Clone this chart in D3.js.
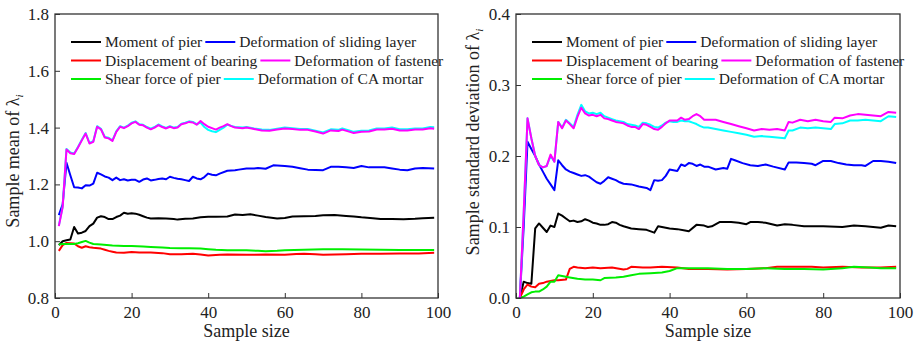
<!DOCTYPE html>
<html>
<head>
<meta charset="utf-8">
<script src="https://cdn.jsdelivr.net/npm/d3@7"></script>
<style>
  body { margin: 0; background: #fff; }
  text { font-family: "Liberation Serif", "Times New Roman", serif; fill: #222; }
</style>
</head>
<body>
<script>
// series names (legend order) and colours
var names = ["Moment of pier", "Deformation of sliding layer", "Displacement of bearing",
             "Deformation of fastener", "Shear force of pier", "Deformation of CA mortar"];
var colors = ["#000000", "#0000ff", "#ff0000", "#ff00ff", "#00ee00", "#00ffff"];

var xTicks = [0, 20, 40, 60, 80, 100];
var meanTicks = [0.8, 1.0, 1.2, 1.4, 1.6, 1.8];
var stdTicks = [0.0, 0.1, 0.2, 0.3, 0.4];

// left chart: sample mean of lambda_i   [sample size, value]
var meanMoment = [[1,0.986],[2,1.0],[3,1.003],[4,1.006],[5,1.05],[6,1.027],[7,1.03],[8,1.036],[9,1.053],[10,1.062],[11,1.083],[12,1.088],[13,1.085],[14,1.078],[15,1.078],[16,1.085],[17,1.09],[18,1.1],[19,1.097],[20,1.098],[21,1.097],[22,1.093],[23,1.088],[24,1.083],[25,1.08],[27,1.081],[29,1.08],[31,1.078],[32,1.076],[34,1.079],[36,1.08],[38,1.084],[40,1.086],[42,1.086],[45,1.087],[47,1.094],[49,1.092],[51,1.095],[53,1.09],[55,1.085],[58,1.08],[60,1.082],[62,1.087],[65,1.088],[68,1.089],[70,1.091],[73,1.092],[76,1.089],[78,1.087],[80,1.084],[83,1.081],[85,1.078],[88,1.078],[91,1.077],[94,1.079],[96,1.081],[99,1.083]];
var meanSliding = [[1,1.092],[2,1.13],[3,1.276],[4,1.232],[5,1.19],[6,1.189],[7,1.186],[8,1.197],[9,1.196],[10,1.203],[11,1.241],[12,1.235],[13,1.228],[14,1.224],[15,1.215],[16,1.224],[17,1.215],[18,1.218],[19,1.214],[20,1.216],[21,1.216],[22,1.209],[23,1.217],[24,1.221],[25,1.214],[26,1.216],[27,1.219],[28,1.221],[29,1.218],[30,1.227],[31,1.223],[32,1.22],[33,1.218],[34,1.215],[35,1.212],[36,1.227],[37,1.221],[38,1.218],[39,1.226],[40,1.238],[41,1.234],[42,1.232],[43,1.238],[45,1.248],[47,1.25],[48,1.252],[50,1.256],[52,1.256],[53,1.258],[55,1.255],[57,1.267],[60,1.265],[62,1.262],[64,1.257],[66,1.252],[68,1.251],[70,1.25],[72,1.262],[74,1.262],[76,1.26],[78,1.258],[80,1.265],[82,1.26],[84,1.26],[86,1.26],[88,1.256],[90,1.252],[92,1.25],[94,1.256],[96,1.258],[99,1.256]];
var meanBearing = [[1,0.966],[2,0.986],[3,0.994],[4,0.993],[5,0.992],[6,0.982],[7,0.977],[8,0.982],[9,0.979],[10,0.977],[12,0.974],[13,0.97],[14,0.966],[15,0.963],[16,0.96],[18,0.959],[20,0.962],[22,0.96],[25,0.96],[28,0.958],[30,0.954],[33,0.954],[36,0.956],[38,0.953],[40,0.95],[43,0.952],[45,0.953],[50,0.952],[55,0.953],[60,0.952],[63,0.955],[65,0.956],[68,0.954],[70,0.952],[73,0.953],[76,0.954],[80,0.956],[85,0.956],[90,0.957],[95,0.957],[99,0.959]];
var meanFastener = [[1,1.053],[2,1.12],[3,1.323],[4,1.31],[5,1.307],[6,1.33],[7,1.355],[8,1.379],[9,1.344],[10,1.35],[11,1.403],[12,1.394],[13,1.365],[14,1.362],[15,1.353],[16,1.385],[17,1.403],[18,1.398],[19,1.405],[20,1.415],[21,1.42],[22,1.41],[23,1.408],[24,1.4],[25,1.394],[26,1.4],[27,1.409],[28,1.402],[29,1.397],[30,1.403],[31,1.398],[32,1.4],[33,1.412],[34,1.415],[35,1.42],[36,1.418],[37,1.41],[38,1.423],[39,1.412],[40,1.403],[41,1.398],[42,1.393],[43,1.4],[44,1.405],[45,1.412],[46,1.405],[47,1.4],[49,1.398],[50,1.4],[52,1.395],[54,1.39],[56,1.389],[58,1.393],[60,1.397],[62,1.395],[64,1.392],[66,1.392],[68,1.386],[70,1.379],[72,1.39],[74,1.388],[75,1.393],[77,1.385],[78,1.381],[80,1.385],[82,1.386],[84,1.393],[86,1.393],[88,1.396],[90,1.39],[92,1.39],[94,1.393],[96,1.393],[98,1.398],[99,1.396]];
var meanShear = [[1,0.988],[2,0.99],[3,0.99],[4,0.99],[5,0.99],[6,0.993],[7,0.997],[8,1.001],[9,0.995],[10,0.99],[12,0.988],[15,0.985],[18,0.983],[20,0.983],[23,0.981],[25,0.98],[28,0.978],[30,0.976],[33,0.975],[35,0.975],[38,0.974],[40,0.972],[42,0.97],[45,0.968],[50,0.968],[53,0.966],[55,0.965],[58,0.966],[60,0.968],[65,0.97],[70,0.972],[75,0.972],[80,0.971],[85,0.97],[90,0.969],[95,0.969],[99,0.969]];
var meanCA = [[1,1.055],[2,1.122],[3,1.325],[4,1.312],[5,1.309],[6,1.332],[7,1.357],[8,1.381],[9,1.346],[10,1.352],[11,1.405],[12,1.396],[13,1.367],[14,1.364],[15,1.355],[16,1.387],[17,1.405],[18,1.4],[19,1.407],[20,1.417],[21,1.422],[22,1.412],[23,1.41],[24,1.402],[25,1.396],[26,1.402],[27,1.411],[28,1.404],[29,1.399],[30,1.405],[31,1.4],[32,1.402],[33,1.414],[34,1.417],[35,1.422],[36,1.42],[37,1.412],[38,1.418],[39,1.402],[40,1.392],[41,1.387],[42,1.384],[43,1.392],[44,1.4],[45,1.41],[46,1.406],[47,1.402],[49,1.4],[50,1.402],[52,1.397],[54,1.393],[56,1.392],[58,1.396],[60,1.4],[62,1.398],[64,1.395],[66,1.395],[68,1.389],[70,1.383],[72,1.394],[74,1.392],[75,1.397],[77,1.389],[78,1.385],[80,1.389],[82,1.39],[84,1.397],[86,1.397],[88,1.4],[90,1.394],[92,1.394],[94,1.397],[96,1.397],[98,1.402],[99,1.401]];

// right chart: sample standard deviation of lambda_i
var stdMoment = [[1,0],[2,0.023],[3,0.021],[4,0.02],[5,0.098],[6,0.105],[7,0.099],[8,0.093],[9,0.102],[10,0.1],[11,0.119],[12,0.116],[13,0.112],[14,0.108],[15,0.109],[16,0.107],[17,0.108],[18,0.111],[19,0.109],[20,0.106],[21,0.105],[22,0.103],[23,0.103],[24,0.104],[25,0.107],[26,0.106],[27,0.103],[28,0.101],[30,0.098],[32,0.097],[34,0.096],[36,0.092],[37,0.101],[38,0.1],[40,0.098],[42,0.097],[44,0.095],[45,0.094],[47,0.103],[49,0.102],[50,0.1],[51,0.101],[53,0.107],[56,0.107],[58,0.106],[60,0.104],[61,0.107],[63,0.107],[65,0.106],[68,0.102],[70,0.104],[72,0.103],[75,0.101],[80,0.101],[85,0.1],[88,0.102],[91,0.101],[93,0.1],[95,0.099],[97,0.102],[99,0.101]];
var stdSliding = [[1,0],[2,0.1],[3,0.22],[4,0.21],[5,0.2],[6,0.188],[7,0.178],[8,0.168],[9,0.16],[10,0.152],[11,0.194],[12,0.187],[13,0.181],[14,0.178],[15,0.176],[16,0.174],[17,0.172],[18,0.173],[19,0.171],[20,0.167],[21,0.163],[22,0.161],[23,0.165],[24,0.17],[25,0.168],[26,0.166],[27,0.163],[28,0.161],[30,0.16],[32,0.157],[34,0.155],[35,0.152],[36,0.166],[37,0.165],[38,0.166],[39,0.172],[40,0.181],[41,0.18],[42,0.179],[43,0.188],[44,0.186],[45,0.19],[46,0.189],[47,0.186],[48,0.188],[49,0.185],[50,0.185],[52,0.181],[54,0.183],[55,0.182],[56,0.196],[57,0.194],[59,0.19],[61,0.187],[63,0.186],[65,0.188],[67,0.185],[70,0.181],[71,0.191],[73,0.191],[75,0.19],[77,0.189],[78,0.187],[80,0.193],[82,0.193],[84,0.19],[86,0.188],[88,0.187],[90,0.187],[91,0.186],[93,0.193],[95,0.193],[97,0.192],[99,0.19]];
var stdBearing = [[1,0],[2,0.012],[3,0.019],[4,0.016],[5,0.015],[6,0.02],[7,0.021],[8,0.023],[9,0.024],[10,0.025],[11,0.025],[13,0.026],[14,0.041],[15,0.044],[16,0.043],[18,0.042],[20,0.043],[22,0.042],[25,0.043],[28,0.04],[29,0.041],[30,0.044],[33,0.043],[35,0.043],[38,0.044],[42,0.043],[45,0.041],[50,0.041],[55,0.04],[60,0.041],[65,0.042],[68,0.044],[72,0.044],[77,0.044],[80,0.043],[85,0.044],[90,0.043],[95,0.043],[99,0.044]];
var stdFastener = [[1,0],[2,0.12],[3,0.253],[4,0.225],[5,0.2],[6,0.187],[7,0.184],[8,0.186],[9,0.202],[10,0.192],[11,0.248],[12,0.239],[13,0.25],[14,0.245],[15,0.239],[16,0.255],[17,0.268],[18,0.26],[19,0.257],[20,0.258],[21,0.256],[22,0.258],[23,0.253],[24,0.252],[25,0.25],[26,0.248],[27,0.247],[28,0.246],[29,0.243],[30,0.241],[31,0.241],[32,0.238],[33,0.245],[34,0.244],[35,0.241],[36,0.238],[37,0.237],[38,0.241],[39,0.246],[40,0.25],[41,0.25],[42,0.25],[43,0.254],[44,0.251],[45,0.252],[46,0.256],[47,0.259],[48,0.256],[49,0.251],[50,0.251],[52,0.251],[54,0.248],[56,0.245],[58,0.242],[60,0.239],[62,0.236],[64,0.238],[66,0.237],[68,0.238],[70,0.236],[71,0.248],[72,0.247],[74,0.251],[76,0.249],[78,0.251],[80,0.249],[82,0.248],[83,0.254],[85,0.253],[87,0.257],[89,0.259],[91,0.258],[93,0.257],[95,0.256],[97,0.262],[99,0.261]];
var stdShear = [[1,0],[2,0.002],[3,0.005],[4,0.008],[5,0.009],[6,0.009],[7,0.012],[8,0.016],[9,0.023],[10,0.023],[11,0.032],[12,0.031],[14,0.029],[16,0.027],[18,0.026],[20,0.026],[22,0.025],[23,0.028],[26,0.029],[28,0.03],[30,0.032],[32,0.034],[35,0.035],[38,0.036],[40,0.038],[42,0.042],[45,0.042],[50,0.042],[55,0.041],[60,0.041],[65,0.042],[70,0.041],[75,0.041],[80,0.04],[85,0.042],[88,0.044],[92,0.043],[95,0.042],[99,0.042]];
var stdCA = [[1,0],[2,0.12],[3,0.253],[4,0.225],[5,0.2],[6,0.187],[7,0.184],[8,0.186],[9,0.2],[10,0.192],[11,0.248],[12,0.24],[13,0.251],[14,0.246],[15,0.241],[16,0.258],[17,0.272],[18,0.263],[19,0.26],[20,0.261],[21,0.259],[22,0.261],[23,0.256],[24,0.254],[25,0.252],[26,0.25],[27,0.249],[28,0.248],[29,0.245],[30,0.244],[31,0.243],[32,0.241],[33,0.247],[34,0.246],[35,0.244],[36,0.241],[37,0.24],[38,0.243],[39,0.247],[40,0.249],[41,0.248],[42,0.248],[43,0.25],[44,0.249],[45,0.249],[46,0.247],[47,0.245],[48,0.242],[49,0.24],[50,0.24],[52,0.238],[54,0.236],[56,0.234],[58,0.232],[60,0.23],[62,0.227],[64,0.228],[66,0.227],[68,0.226],[70,0.225],[71,0.236],[72,0.236],[74,0.24],[76,0.239],[78,0.24],[80,0.239],[82,0.238],[83,0.245],[85,0.246],[87,0.25],[89,0.25],[91,0.251],[93,0.25],[95,0.249],[97,0.256],[99,0.255]];

var svg = d3.select("body").append("svg")
    .attr("width", 920)
    .attr("height", 343);

function drawPanel(opt) {
  var x = d3.scaleLinear().domain([0, 100]).range([opt.left, opt.right]);
  var y = d3.scaleLinear().domain(opt.domain).range([298, 14]);
  var g = svg.append("g");

  // series, drawn so magenta sits over cyan like the original
  var order = [0, 1, 2, 4, 5, 3];
  var line = d3.line().x(d => x(d[0])).y(d => y(d[1]));
  order.forEach(function(i) {
    g.append("path")
      .attr("d", line(opt.series[i]))
      .attr("fill", "none")
      .attr("stroke", colors[i])
      .attr("stroke-width", 2)
      .attr("stroke-linejoin", "round");
  });

  // axes with inward ticks
  var ax = g.append("g").attr("transform", "translate(0,298)")
    .call(d3.axisBottom(x).tickValues(xTicks).tickSizeInner(-5).tickSizeOuter(0).tickPadding(8));
  var ay = g.append("g").attr("transform", "translate(" + opt.left + ",0)")
    .call(d3.axisLeft(y).tickValues(opt.ticks).tickFormat(d3.format(".1f")).tickSizeInner(-5).tickSizeOuter(0).tickPadding(6));
  [ax, ay].forEach(function(a) {
    a.select(".domain").remove();
    a.selectAll("line").attr("stroke", "#333").attr("stroke-width", 1);
    a.selectAll("text").attr("font-size", 17).attr("font-family", "Liberation Serif").attr("fill", "#222");
  });

  g.append("rect")
    .attr("x", opt.left).attr("y", 14)
    .attr("width", opt.right - opt.left).attr("height", 284)
    .attr("fill", "none").attr("stroke", "#333").attr("stroke-width", 1.3);

  // axis titles
  g.append("text")
    .attr("x", (opt.left + opt.right) / 2).attr("y", 337)
    .attr("text-anchor", "middle").attr("font-size", 18)
    .text("Sample size");
  var t = g.append("text")
    .attr("transform", "translate(" + opt.titleX + "," + opt.titleY + ") rotate(-90)")
    .attr("text-anchor", "middle").attr("font-size", 18);
  t.append("tspan").text(opt.title + "  \u03bb");
  t.append("tspan").attr("font-size", 11).attr("font-style", "italic").attr("dy", 4).text("i");

  // legend: three rows, two items per row
  var rows = [[0, 1], [2, 3], [4, 5]];
  rows.forEach(function(r, ri) {
    var ly = 42 + ri * 18.5;
    var lx = opt.legendX;
    r.forEach(function(i) {
      g.append("line")
        .attr("x1", lx).attr("x2", lx + 30).attr("y1", ly).attr("y2", ly)
        .attr("stroke", colors[i]).attr("stroke-width", 2);
      var tx = g.append("text")
        .attr("x", lx + 34).attr("y", ly + 5)
        .attr("font-size", 15.5)
        .text(names[i]);
      lx = lx + 34 + tx.node().getComputedTextLength() + 3;
    });
  });
}

drawPanel({
  left: 55, right: 438, domain: [0.8, 1.8], ticks: meanTicks,
  series: [meanMoment, meanSliding, meanBearing, meanFastener, meanShear, meanCA],
  title: "Sample mean of", titleX: 19, titleY: 161, legendX: 71
});
drawPanel({
  left: 516, right: 900, domain: [0, 0.4], ticks: stdTicks,
  series: [stdMoment, stdSliding, stdBearing, stdFastener, stdShear, stdCA],
  title: "Sample standard deviation of", titleX: 479, titleY: 142, legendX: 532
});
</script>
</body>
</html>
